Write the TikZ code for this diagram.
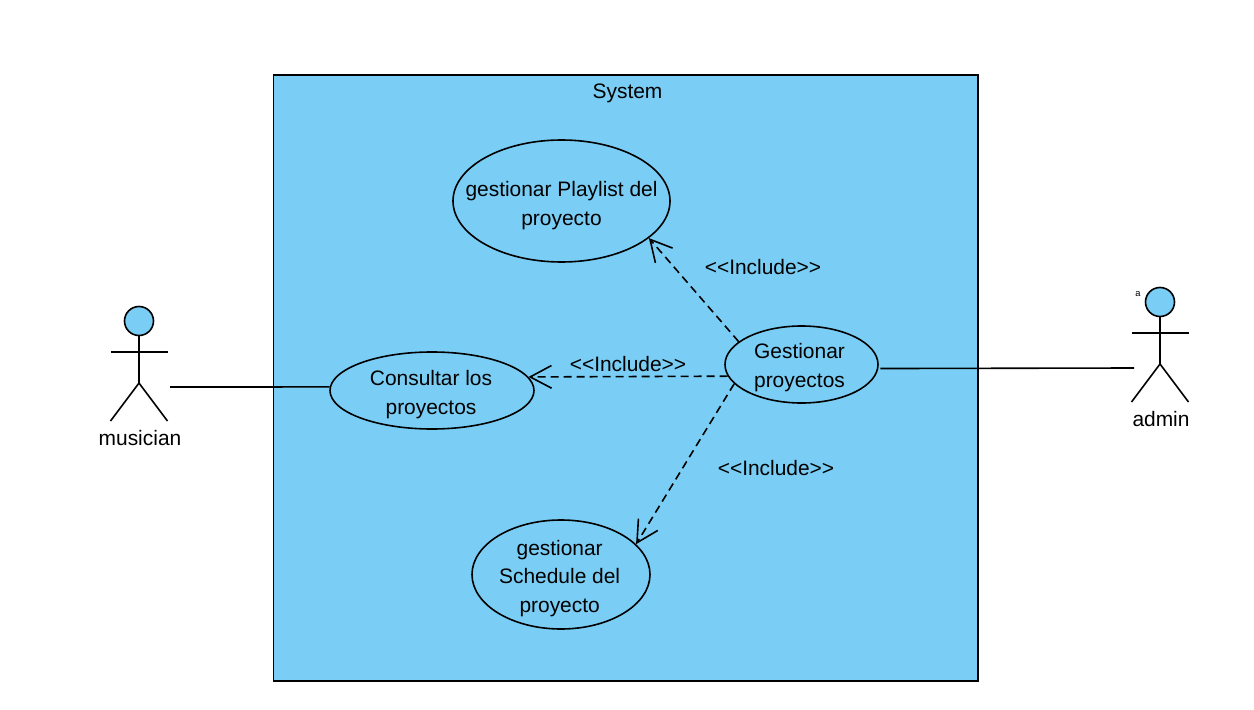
\documentclass[tikz,border=0pt]{standalone}
\usepackage{fontspec}
\setmainfont{Liberation Sans}
\usepackage{xcolor}
\usetikzlibrary{arrows.meta}
\usetikzlibrary{shapes.geometric}
\definecolor{umlblue}{HTML}{7ACEF5}
\tikzset{
    umltext/.style={font=\fontsize{15.7}{21.4}\selectfont, align=center, text=black, inner sep=0},
    usecase/.style={draw=black, fill=umlblue, shape=ellipse, line width=1.2pt, inner sep=0},
    actorhead/.style={draw=black, fill=umlblue, shape=circle, line width=1.2pt, inner sep=0, minimum size=21.75pt},
    actorline/.style={draw=black, line width=1.2pt},
    assoc/.style={draw=black, line width=1.2pt},
    include/.style={draw=black, line width=1.2pt, dash pattern=on 6pt off 3.75pt, -{Straight Barb[length=16pt,width=17pt]}},
}
\begin{document}
\begin{tikzpicture}[x=0.75pt,y=-0.75pt]
    \useasboundingbox (0, 0) rectangle (1254, 710);
    %system
    \node [draw=black, fill=umlblue, line width=1.2pt, minimum width=528.4pt, minimum height=454.5pt, inner sep=0] (system) at (625.75, 378) {};
    \node [umltext] (systemlabel) at (627.5, 93) {System};
    %use cases
    \node [usecase, minimum width=162.75pt, minimum height=91.5pt, label={[umltext, yshift=-3.25pt]center:gestionar Playlist del\\proyecto}] (playlist) at (561.5, 201) {};
    \node [usecase, minimum width=153pt, minimum height=57.75pt, label={[umltext, xshift=-0.75pt, yshift=-3pt]center:Consultar los\\proyectos}] (consultar) at (432, 390.5) {};
    \node [usecase, minimum width=133.5pt, minimum height=81.75pt, label={[umltext, xshift=-1pt, yshift=-3pt]center:gestionar\\Schedule del\\proyecto}] (schedule) at (561, 574.5) {};
    \node [usecase, minimum width=114.75pt, minimum height=57.75pt, label={[umltext, xshift=-1.5pt, yshift=-2.25pt]center:Gestionar\\proyectos}] (gestionar) at (801.5, 364.5) {};
    %actors
    \foreach \name/\x/\y/\txt in {musician/139/321/musician, admin/1160/302/admin} {
        \node [actorhead] (\name) at (\x, \y) {};
        \draw [actorline] (\name.south) -- (\x, \y + 62);
        \draw [actorline] (\x - 28.5, \y + 31) -- (\x + 28.5, \y + 31);
        \draw [actorline] (\x - 28.5, \y + 100) -- (\x, \y + 62) -- (\x + 28.5, \y + 100);
        \node [umltext] (\name label) at (\x + 1, \y + 117) {\txt};
    }
    \node [font=\fontsize{7}{8}\selectfont, inner sep=0] (adminmark) at (1138, 294) {a};
    %associations
    \coordinate (musicianport) at (170, 387);
    \coordinate (adminport) at (1134, 368);
    \draw [assoc] (musicianport) -- (consultar.178);
    \draw [assoc] (gestionar.-3) ++(2, 0) -- (adminport);
    %includes
    \draw [include] (gestionar.160.8) -- (playlist.-23);
    \draw [include] (gestionar.-171.1) -- (consultar.8.6);
    \draw [include] (gestionar.-164) -- (schedule.22.5);
    \node [umltext] (includeplaylist) at (763, 267) {<{}<Include>{}>};
    \node [umltext] (includeconsultar) at (628, 364) {<{}<Include>{}>};
    \node [umltext] (includeschedule) at (776, 468) {<{}<Include>{}>};
\end{tikzpicture}
\end{document}
